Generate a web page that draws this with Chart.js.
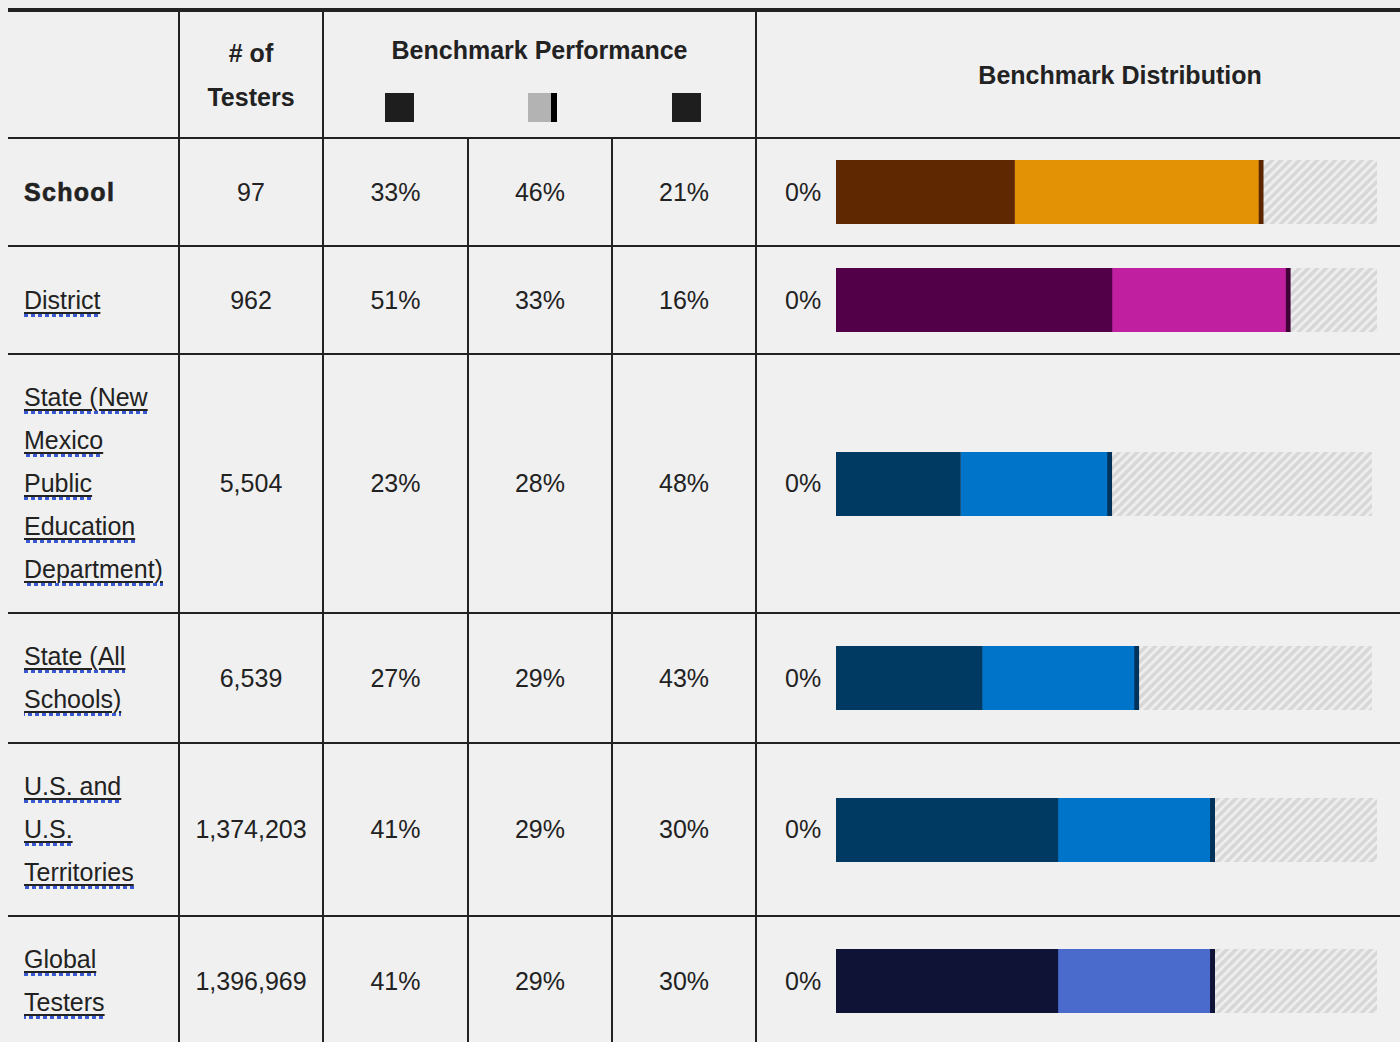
<!DOCTYPE html>
<html>
<head>
<meta charset="utf-8">
<script src="https://cdn.jsdelivr.net/npm/chart.js@4/dist/chart.umd.min.js"></script>
<style>
  html, body { margin: 0; padding: 0; background: #f0f0f0; overflow: hidden; }
  body { width: 1400px; height: 1042px; position: relative; font-family: "Liberation Sans", Arial, sans-serif; color: #222; }
  table { position: absolute; left: 8px; top: 8px; width: 1476px; border-collapse: collapse; table-layout: fixed; font-size: 25px; }
  th, td { border: 2px solid #222; padding: 21px 0; line-height: 43px; text-align: center; vertical-align: middle; }
  tr > *:first-child { border-left: none; }
  thead th { border-top: 4px solid #222; line-height: 44px; padding: 0; height: 125px; font-weight: bold; }
  td.name { text-align: left; padding-left: 16px; padding-right: 12px; }
  td.name b { font-weight: 700; letter-spacing: 1.3px; -webkit-text-stroke: 0.6px #222; }
  td.name a { color: #222; text-decoration: underline; text-decoration-thickness: 2px; text-underline-offset: 3px;
    padding-bottom: 3px;
    background: repeating-linear-gradient(to right, #3a58cf 0 4px, transparent 4px 7px) left bottom / 100% 3px no-repeat; }
  .icons { position: relative; height: 29px; margin-top: 21px; }
  .sq { position: absolute; top: 0; width: 29px; height: 29px; background: #1e1e1e; }
  .sq.mid { background: linear-gradient(to right, #b3b3b3 0 23px, #000 23px); }
  td.dist { padding: 21px 0; text-align: left; }
  .distwrap { display: flex; align-items: center; height: 64px; }
  .distwrap span { margin-left: 28px; width: 51px; }
  .distwrap canvas { display: block; }
</style>
</head>
<body>
<table id="tbl">
  <colgroup>
    <col style="width:171px"><col style="width:144px"><col style="width:145px"><col style="width:144px"><col style="width:144px"><col style="width:728px">
  </colgroup>
  <thead>
    <tr>
      <th></th>
      <th># of<br>Testers</th>
      <th colspan="3">Benchmark Performance
        <div class="icons"><div class="sq" style="left:61px"></div><div class="sq mid" style="left:204px"></div><div class="sq" style="left:348px"></div></div>
      </th>
      <th>Benchmark Distribution</th>
    </tr>
  </thead>
  <tbody id="body"></tbody>
</table>
<script>
// rows of the table
const rowLabels = ['School', 'District', 'State (New Mexico Public Education Department)', 'State (All Schools)', 'U.S. and U.S. Territories', 'Global Testers'];
const testers = ['97', '962', '5,504', '6,539', '1,374,203', '1,396,969'];
const belowPct = [33, 51, 23, 27, 41, 41];
const nearPct = [46, 33, 28, 29, 29, 29];
const abovePct = [21, 16, 48, 43, 30, 30];
const minLabel = '0%';

// colours per row
const darkColors = ['#602800', '#520048', '#003a63', '#003a63', '#003a63', '#0f1437'];
const midColors = ['#e39205', '#c020a0', '#0074c8', '#0074c8', '#0074c8', '#4a6acc'];
const markColors = ['#5a2600', '#3e0036', '#00325a', '#00325a', '#00325a', '#0f1437'];

// hatched pattern for the remaining part
function makeHatch() {
    const c = document.createElement('canvas');
    c.width = 9; c.height = 9;
    const g = c.getContext('2d');
    g.fillStyle = '#d7d7d7';
    g.fillRect(0, 0, 9, 9);
    g.strokeStyle = '#eeeeee';
    g.lineWidth = 3;
    g.beginPath();
    g.moveTo(-1, 10); g.lineTo(10, -1);
    g.moveTo(-1, 1); g.lineTo(1, -1);
    g.moveTo(8, 10); g.lineTo(10, 8);
    g.stroke();
    return g.createPattern(c, 'repeat');
}
const hatch = makeHatch();

const tbody = document.getElementById('body');
rowLabels.forEach((label, i) => {
    const tr = document.createElement('tr');
    let nameHtml = i === 0 ? '<b>' + label + '</b>' : '<a>' + label + '</a>';
    tr.innerHTML =
        '<td class="name">' + nameHtml + '</td>' +
        '<td>' + testers[i] + '</td>' +
        '<td>' + belowPct[i] + '%</td>' +
        '<td>' + nearPct[i] + '%</td>' +
        '<td>' + abovePct[i] + '%</td>' +
        '<td class="dist"><div class="distwrap"><span>' + minLabel + '</span><canvas width="541" height="64"></canvas></div></td>';
    tbody.appendChild(tr);

    const ctx = tr.querySelector('canvas').getContext('2d');
    new Chart(ctx, {
        type: 'bar',
        data: {
            labels: [label],
            datasets: [
                { data: [belowPct[i]], backgroundColor: darkColors[i], borderWidth: 0 },
                { data: [nearPct[i]], backgroundColor: midColors[i], borderColor: markColors[i],
                  borderWidth: { top: 0, right: 5, bottom: 0, left: 0 }, borderSkipped: false },
                { data: [abovePct[i]], backgroundColor: hatch, borderWidth: 0 }
            ]
        },
        options: {
            indexAxis: 'y',
            responsive: false,
            animation: false,
            devicePixelRatio: 1,
            layout: { padding: 0 },
            datasets: { bar: { categoryPercentage: 1, barPercentage: 1 } },
            plugins: { legend: { display: false }, tooltip: { enabled: false } },
            scales: {
                x: { stacked: true, min: 0, max: 100, display: false },
                y: { stacked: true, display: false }
            }
        }
    });
});
</script>
</body>
</html>
